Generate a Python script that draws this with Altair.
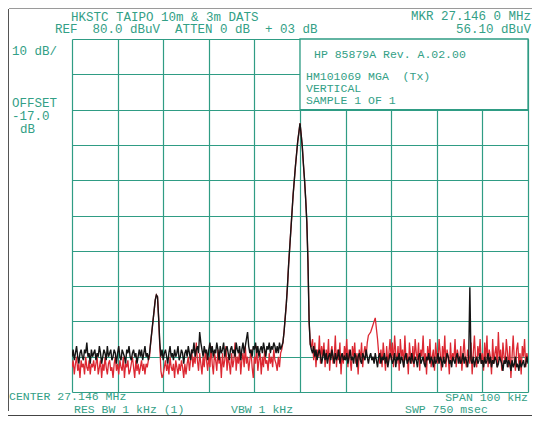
import altair as alt
import pandas as pd

# ---- sweep setup (HP spectrum analyser, 401 points over 100 kHz) ----
START_MHZ = 27.096
STEP_MHZ = 0.00025

freq_grid = [27.096, 27.106, 27.116, 27.126, 27.136, 27.146,
             27.156, 27.166, 27.176, 27.186, 27.196]
level_grid = [-20, -10, 0, 10, 20, 30, 40, 50, 60, 70, 80]

# ---- trace 1 (black), dBuV ----
black_dbuv = [
    -10, -8, -11, -9, -7, -10, -12, -9, -8, -10, -11, -8, -9, -6, -10, -9, -12, -8, -10, -9,
    -8, -11, -9, -10, -7, -9, -12, -10, -8, -9, -11, -7, -10, -9, -8, -11, -10, -8, -9, -12,
    -9, -7, -10, -11, -8, -9, -10, -12, -8, -9, -7, -10, -11, -9, -8, -10, -9, -12, -10, -8,
    -10, -8, -11, -9, -7, -10, -9, -11, -9, -6, -3, 0, 3, 6, 7.5, 7, 1, -6, -10, -8,
    -11, -9, -8, -10, -12, -9, -7, -10, -9, -11, -8, -10, -9, -7, -11, -10, -8, -9, -12, -9,
    -8, -10, -7, -9, -11, -8, -9, -6, -10, -8, -7, -9, -3, -6, -8, -10, -7, -9, -8, -11,
    -8, -6, -9, -7, -10, -8, -9, -6, -8, -11, -7, -9, -8, -6, -10, -8, -7, -9, -11, -8,
    -7, -9, -8, -10, -6, -8, -9, -7, -11, -8, -6, -9, -7, -5, -3, -7, -9, -8, -10, -7,
    -8, -6, -9, -7, -10, -8, -7, -9, -6, -8, -10, -7, -8, -6, -9, -7, -8, -6, -7, -9,
    -7, -9, -6, -8, -7, -6, -3, 1, 5, 10, 16, 21, 26, 31, 36, 40, 44, 47.5, 51, 53.5,
    56.1, 53, 49.5, 44.5, 40, 34.5, 28, 16.7, 0, -6.5, -8, -9, -7, -10, -8, -11, -9, -8, -10, -12,
    -10, -8, -11, -9, -12, -10, -9, -11, -8, -10, -12, -9, -11, -10, -8, -12, -10, -9, -11, -10,
    -11, -9, -12, -10, -8, -11, -10, -12, -9, -10, -13, -10, -9, -11, -12, -9, -10, -11, -8, -10,
    -12, -10, -9, -11, -10, -12, -9, -11, -13, -10, -9, -12, -10, -11, -9, -12, -10, -13, -11, -9,
    -10, -12, -11, -9, -13, -10, -11, -9, -12, -10, -11, -13, -10, -9, -12, -11, -10, -12, -9, -11,
    -12, -10, -11, -13, -10, -9, -12, -11, -10, -12, -13, -10, -11, -9, -12, -10, -11, -13, -10, -12,
    -11, -9, -12, -10, -11, -13, -10, -12, -11, -9, -10, -12, -11, -13, -10, -11, -12, -10, -9, -12,
    -10, -12, -11, -9, -12, -10, -11, -13, -10, 9.7, -11, -12, -10, -13, -11, -10, -12, -11, -9, -12,
    -11, -13, -10, -12, -11, -9, -12, -10, -13, -11, -12, -10, -11, -13, -12, -10, -11, -12, -14, -11,
    -12, -10, -13, -11, -12, -14, -11, -13, -12, -10, -13, -12, -14, -11, -13, -12, -11, -13, -12, -10,
    -12,
]

# ---- trace 2 (red), dBuV ----
red_dbuv = [
    -13, -11, -15, -12, -10, -14, -12, -16, -11, -13, -12, -15, -10, -13, -14, -11, -15, -12, -13, -11,
    -14, -12, -10, -15, -13, -11, -16, -12, -14, -10, -13, -15, -12, -11, -14, -13, -16, -12, -10, -14,
    -12, -15, -11, -13, -14, -10, -16, -12, -13, -11, -15, -14, -12, -10, -13, -16, -11, -14, -12, -15,
    -13, -11, -14, -12, -15, -12, -13, -11, -10, -6, -3, 0, 3, 6, 7.5, 7, 1, -7, -14, -16,
    -15, -13, -11, -14, -12, -15, -10, -13, -14, -12, -16, -11, -13, -15, -12, -14, -11, -13, -16, -12,
    -15, -12, -10, -14, -11, -8, -13, -10, -12, -6, -11, -14, -9, -12, -15, -10, -13, -8, -11, -14,
    -10, -13, -7, -12, -15, -9, -11, -14, -8, -12, -10, -16, -9, -13, -11, -7, -14, -10, -12, -15,
    -9, -13, -11, -6, -14, -10, -12, -8, -15, -11, -9, -13, -7, -12, -10, -14, -11, -8, -13, -16,
    -10, -12, -7, -14, -11, -9, -15, -10, -13, -8, -12, -11, -14, -9, -12, -10, -13, -8, -11, -12,
    -14, -10, -13, -9, -8, -6, -3, 1, 5, 10, 16, 21, 26, 31, 36, 40, 44, 47.5, 51, 53.5,
    56.1, 53, 49.5, 44.5, 40, 34.5, 28, 16.7, 0, -6.5, -7, -5, -11, -6, -13, -8, -10, -4, -12, -7,
    -10, -6, -13, -8, -11, -5, -14, -9, -7, -12, -10, -4, -13, -8, -11, -6, -15, -9, -12, -7,
    -10, -5, -13, -8, -11, -14, -7, -10, -6, -12, -9, -15, -8, -11, -6, -13, -9, -7, -10, -6,
    -4, -3.5, -3, -2, -1, 0, 1, -2, -5, -9, -12, -8, -13, -6, -10, -14, -7, -12, -9, -5,
    -11, -6, -13, -4, -9, -12, -7, -14, -5, -10, -8, -13, -4, -11, -9, -15, -6, -10, -12, -7,
    -13, -5, -9, -11, -6, -14, -8, -10, -4, -12, -9, -15, -7, -11, -5, -13, -10, -8, -14, -6,
    -10, -12, -5, -9, -14, -7, -11, -4, -13, -8, -10, -15, -6, -12, -9, -11, -5, -13, -8, -10,
    -12, -7, -14, -9, -5, -11, -13, -8, -10, -12, -6, -15, -9, -4, -11, -13, -7, -10, -5, -12,
    -9, -14, -6, -11, -4, -13, -8, -10, -15, -5, -12, -9, -7, -13, -3, -11, -8, -14, -6, -10,
    -12, -5, -9, -13, -7, -16, -10, -4, -11, -14, -8, -6, -12, -9, -15, -7, -10, -5, -13, -9,
    -11,
]

# ---- annotation text (non-breaking spaces keep the plotter's double gaps) ----
NB = "\u00a0"
header_lines = ["HKSTC TAIPO 10m & 3m DATS",
                f"REF{NB}{NB}80.0 dBuV{NB}{NB}ATTEN 0 dB{NB}{NB}+ 03 dB"]
marker_lines = ["MKR 27.146 0 MHz", "56.10 dBuV"]
scale_lines = ["10 dB/", "OFFSET", "-17.0", "dB"]
box_lines = ["HP 85879A Rev. A.02.00", f"HM101069 MGA{NB}{NB}(Tx)", "VERTICAL", "SAMPLE 1 OF 1"]
footer_lines = ["CENTER 27.146 MHz", "RES BW 1 kHz (1)", "VBW 1 kHz", "SPAN 100 kHz", "SWP 750 msec"]

GRID = "#2f9c84"
TEXT = "#33a086"
FONT = "Liberation Mono"
W, H = 456, 353


def trace_frame(values):
    return pd.DataFrame({
        "freq": [round(START_MHZ + i * STEP_MHZ, 5) for i in range(len(values))],
        "level": values,
    })


x_enc = alt.X("freq:Q",
              scale=alt.Scale(domain=[freq_grid[0], freq_grid[-1]], nice=False, zero=False),
              axis=alt.Axis(values=freq_grid, labels=False, ticks=False, domain=False,
                            grid=True, title=None))
y_enc = alt.Y("level:Q",
              scale=alt.Scale(domain=[level_grid[0], level_grid[-1]], nice=False, zero=False),
              axis=alt.Axis(values=level_grid, labels=False, ticks=False, domain=False,
                            grid=True, title=None))

red = alt.Chart(trace_frame(red_dbuv)).mark_line(
    color="#dc2832", strokeWidth=1.3, clip=True).encode(x=x_enc, y=y_enc, order="freq:Q")
black = alt.Chart(trace_frame(black_dbuv)).mark_line(
    color="#141414", strokeWidth=1.4, clip=True).encode(x=x_enc, y=y_enc, order="freq:Q")

one = pd.DataFrame({"k": [0]})

box = alt.Chart(one).mark_rect(fill="white", stroke=GRID, strokeWidth=1.3).encode(
    x=alt.value(W / 2), x2=alt.value(W), y=alt.value(0), y2=alt.value(H * 0.2))


def label(txt, x, y, align="left", size=12.5):
    return alt.Chart(one).mark_text(
        text=txt, align=align, baseline="middle", font=FONT, fontSize=size,
        color=TEXT).encode(x=alt.value(x), y=alt.value(y))


def rule(x, x2, y, y2, color, w=1.0):
    return alt.Chart(one).mark_rule(color=color, strokeWidth=w).encode(
        x=alt.value(x), x2=alt.value(x2), y=alt.value(y), y2=alt.value(y2))


texts = [
    label(header_lines[0], -1, -22.5),
    label(header_lines[1], -17, -10),
    label(marker_lines[0], 459, -23, align="right"),
    label(marker_lines[1], 459, -10, align="right"),
    label(scale_lines[0], -60, 12),
    label(scale_lines[1], -60, 64),
    label(scale_lines[2], -60, 77),
    label(scale_lines[3], -52, 90),
    label(box_lines[0], 242, 15.5, size=11.5),
    label(box_lines[1], 234, 37.5, size=11.5),
    label(box_lines[2], 234, 49.5, size=11.5),
    label(box_lines[3], 234, 61.5, size=11.5),
    label(footer_lines[0], -63, 357.5, size=11.5),
    label(footer_lines[1], 2, 370.5, size=11.5),
    label(footer_lines[2], 159, 370.5, size=11.5),
    label(footer_lines[3], 456, 359, align="right", size=11.5),
    label(footer_lines[4], 333, 370.5, size=11.5),
]

frame = [
    rule(-63.5, -63.5, -30, 372, "#555555", 1.0),
    rule(-63, 460, -30.5, -30.5, "#9a9a9a", 1.0),
    rule(-64, 460, 376.5, 376.5, "#444444", 1.0),
]

chart = alt.layer(red, black, box, *frame, *texts).properties(
    width=W, height=H,
    padding={"left": 64, "top": 31, "right": 4, "bottom": 24},
    autosize=alt.AutoSizeParams(type="none"),
    background="white",
).configure_view(stroke=None).configure_axis(
    gridColor=GRID, gridOpacity=1, gridWidth=1.2)

chart.save("out.html", embed_options={"renderer": "svg", "actions": False})
